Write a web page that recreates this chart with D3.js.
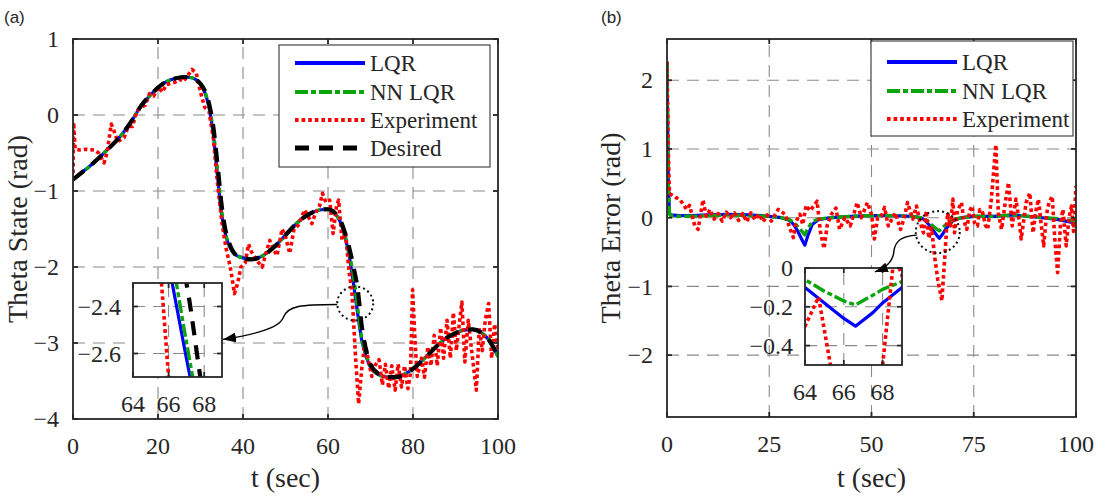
<!DOCTYPE html>
<html>
<head>
<meta charset="utf-8">
<script src="https://cdn.jsdelivr.net/npm/d3@7"></script>
<style>
  body { margin: 0; background: #fff; }
  svg text { font-family: "Liberation Serif", "Times New Roman", serif; fill: #262626; }
  svg text.panel { font-family: "Liberation Sans", Arial, sans-serif; }
</style>
</head>
<body>
<svg id="chart" width="1107" height="499"></svg>
<script>
// ---- panel (a): theta state ----
const tState = [0, 2, 4, 6, 8, 10, 12, 14, 16, 18, 20, 22, 24, 26, 28, 29, 30, 31, 32, 33, 34, 35, 36, 37, 38,
  40, 42, 44, 46, 48, 50, 52, 54, 56, 58, 60, 61, 62, 63, 64, 65, 66, 67, 68, 69, 70,
  72, 74, 76, 78, 80, 82, 84, 86, 88, 90, 92, 94, 96, 98, 100];
const desiredState = [-0.85, -0.76, -0.67, -0.57, -0.46, -0.35, -0.22, -0.06, 0.12, 0.25, 0.36, 0.44, 0.48, 0.50, 0.49,
  0.46, 0.41, 0.32, 0.15, -0.15, -0.65, -1.2, -1.55, -1.72, -1.82,
  -1.88, -1.9, -1.87, -1.8, -1.7, -1.58, -1.46, -1.36, -1.29, -1.25, -1.24,
  -1.26, -1.31, -1.4, -1.55, -1.75, -2.0, -2.3, -2.8, -3.1, -3.28,
  -3.41, -3.45, -3.45, -3.41, -3.34, -3.24, -3.13, -3.02, -2.93, -2.87, -2.83, -2.82, -2.86, -2.97, -3.18];
const lqrState = [-0.85, -0.76, -0.67, -0.57, -0.46, -0.35, -0.22, -0.06, 0.12, 0.25, 0.36, 0.44, 0.48, 0.50, 0.49,
  0.46, 0.41, 0.30, 0.10, -0.25, -0.8, -1.32, -1.6, -1.75, -1.83,
  -1.88, -1.9, -1.87, -1.8, -1.7, -1.58, -1.46, -1.36, -1.29, -1.25, -1.24,
  -1.26, -1.32, -1.42, -1.6, -1.86, -2.22, -2.62, -2.98, -3.18, -3.32,
  -3.42, -3.45, -3.45, -3.41, -3.34, -3.24, -3.13, -3.02, -2.93, -2.87, -2.83, -2.82, -2.86, -2.97, -3.18];
const nnState = [-0.85, -0.76, -0.67, -0.57, -0.46, -0.35, -0.22, -0.06, 0.12, 0.25, 0.36, 0.44, 0.48, 0.50, 0.49,
  0.46, 0.41, 0.31, 0.12, -0.2, -0.72, -1.26, -1.58, -1.74, -1.83,
  -1.88, -1.9, -1.87, -1.8, -1.7, -1.58, -1.46, -1.36, -1.29, -1.25, -1.24,
  -1.26, -1.32, -1.41, -1.58, -1.82, -2.12, -2.55, -2.95, -3.16, -3.31,
  -3.42, -3.45, -3.45, -3.41, -3.34, -3.24, -3.13, -3.02, -2.93, -2.87, -2.83, -2.82, -2.86, -2.97, -3.18];
const tExpState = [0, 0.15, 0.5, 1.5, 3, 5, 6, 7.3, 8, 9, 9.6, 10.5, 12, 13, 14, 15, 16, 17, 18, 19,
  20, 21, 22, 24, 25, 26, 27, 28, 29, 30, 31, 32, 33, 34, 35, 36, 37, 38, 38.8, 39.5,
  40.5, 41.3, 42, 43, 44.5, 45.5, 46.3, 47.3, 48, 49.2, 50, 51, 52, 53, 54.5, 55.5, 56.2, 57, 58, 58.7,
  59.5, 60.4, 61.2, 62, 62.5, 63.3, 64.1, 65, 65.6, 66, 66.5, 67.2, 68, 68.7, 69.5, 70.3, 71, 72, 72.8, 73.5,
  74.3, 75, 75.8, 76.5, 77.3, 78, 78.8, 79.4, 79.9, 80.5, 81, 82, 82.7, 83.5, 84.2, 85, 85.7, 86.5, 87.2, 88,
  88.8, 89.5, 90.2, 91, 91.5, 92.2, 93, 93.8, 94.9, 95.6, 96.3, 97, 97.8, 98.5, 99.2, 100];
const expState = [-0.85, -0.1, -0.45, -0.46, -0.45, -0.46, -0.5, -0.63, -0.5, -0.12, -0.2, -0.35, -0.3, -0.15, -0.15, 0.05, 0.1, 0.13, 0.28, 0.25,
  0.37, 0.3, 0.4, 0.43, 0.47, 0.44, 0.52, 0.6, 0.55, 0.3, 0.1, 0.05, -0.3, -0.9, -1.4, -1.75, -2.0, -2.35, -2.2, -2.0,
  -1.95, -1.7, -1.8, -1.9, -2.0, -1.8, -1.65, -1.78, -1.85, -1.5, -1.6, -1.82, -1.5, -1.45, -1.25, -1.35, -1.43, -1.3, -1.2, -1.03,
  -1.15, -1.12, -1.56, -1.2, -1.12, -1.65, -1.55, -2.08, -2.3, -2.7, -3.2, -3.8, -3.3, -3.0, -3.22, -3.44, -3.3, -3.22, -3.55, -3.28,
  -3.6, -3.3, -3.62, -3.28, -3.58, -3.3, -3.6, -3.4, -2.3, -3.0, -3.44, -3.2, -3.45, -3.05, -3.3, -2.9, -3.3, -2.8, -3.2, -2.7,
  -3.2, -2.6, -3.1, -2.7, -2.46, -3.25, -2.7, -3.1, -3.62, -2.8, -3.1, -2.7, -2.48, -3.2, -2.75, -3.1];

// ---- panel (b): theta error ----
const tErr = [0, 0.3, 0.6, 1, 3, 6, 10, 15, 20, 25, 28, 30, 31, 32, 33, 33.7, 34.5, 35.5, 37, 40,
  45, 50, 55, 60, 62, 63, 64, 65, 66, 66.6, 67.5, 68, 69, 70, 72, 75, 80, 85, 90, 95, 100];
const lqrErr = [2.27, 0.6, 0.06, 0.04, 0.03, 0.03, 0.04, 0.05, 0.04, 0.02, 0.0, -0.04, -0.1, -0.2, -0.32, -0.4, -0.25, -0.1, -0.03, 0.0,
  0.02, 0.03, 0.03, 0.02, 0.0, -0.03, -0.1, -0.18, -0.26, -0.3, -0.23, -0.18, -0.1, -0.04, 0.0, 0.02, 0.02, 0.04, 0.01, -0.02, -0.08];
const nnErr = [2.27, 0.5, 0.05, 0.03, 0.02, 0.02, 0.03, 0.04, 0.03, 0.02, 0.0, -0.03, -0.07, -0.13, -0.2, -0.25, -0.15, -0.06, -0.02, 0.0,
  0.02, 0.03, 0.03, 0.02, 0.0, -0.02, -0.06, -0.12, -0.17, -0.19, -0.14, -0.11, -0.07, -0.03, 0.0, 0.02, 0.02, 0.04, 0.01, -0.01, -0.05];
const tExpErr = [0, 0.3, 0.6, 1.2, 2, 3.2, 4.8, 5.5, 6.8, 7.6, 8.8, 9.6, 10.5, 11.5, 12.5, 13.5, 14.5, 15.5, 16.5, 17.5,
  18.5, 19.5, 20.5, 21.5, 22.5, 23.5, 24.5, 25.5, 27.2, 28.9, 30, 30.9, 31.6, 32.5, 33.2, 34, 35, 36.7, 37.5, 38.4,
  39.2, 40.2, 41.3, 42.2, 43.5, 44.8, 46.5, 47.5, 49, 50, 50.7, 51.5, 52.4, 53.2, 54.1, 55.8, 57.1, 58, 58.8, 60.1,
  61, 61.8, 62.7, 63.4, 64, 64.7, 65.4, 66.2, 67.2, 68, 68.6, 69.3, 69.9, 70.3, 71, 72, 72.6, 73.3, 74, 74.6,
  75.2, 75.9, 76.5, 77.2, 77.8, 78.4, 79.3, 80.4, 81, 81.8, 82.7, 83.5, 84.4, 85.3, 86, 86.6, 87.8, 88.7, 89.5, 90.2,
  90.8, 91.5, 92.1, 92.8, 93.4, 94.2, 94.8, 95.5, 96.2, 96.8, 97.6, 98.3, 98.9, 99.4, 100];
const expErr = [2.27, 1.0, 0.35, 0.33, 0.3, 0.26, 0.12, 0.18, -0.12, -0.17, 0.26, 0.02, 0.12, -0.02, 0.06, -0.05, 0.08, 0.0, 0.07, -0.04,
  0.06, -0.06, 0.07, -0.03, 0.05, -0.06, 0.04, -0.05, 0.12, 0.05, -0.15, -0.29, -0.05, 0.05, -0.1, 0.18, 0.1, 0.24, -0.2, -0.45,
  -0.1, 0.05, 0.14, -0.17, 0.0, -0.12, 0.22, 0.0, 0.22, 0.05, -0.31, 0.0, 0.02, 0.15, -0.12, 0.07, -0.17, 0.0, 0.22, -0.02,
  0.17, -0.05, -0.22, 0.1, -0.3, -0.15, -0.55, -0.9, -1.21, -0.5, 0.07, -0.12, 0.27, -0.22, 0.1, 0.22, -0.05, -0.17, 0.1, 0.17,
  -0.08, -0.12, 0.12, 0.07, -0.1, -0.17, 0.27, 1.06, 0.07, -0.17, 0.22, 0.51, -0.12, 0.27, 0.0, -0.31, 0.22, 0.36, -0.22, 0.1,
  0.27, -0.1, -0.41, 0.05, 0.22, 0.31, -0.3, -0.8, -0.1, 0.12, -0.41, 0.0, 0.17, -0.2, 0.46];

const stateXTicks = [0, 20, 40, 60, 80, 100];
const stateYTicks = [-4, -3, -2, -1, 0, 1];
const errXTicks = [0, 25, 50, 75, 100];
const errYTicks = [-2, -1, 0, 1, 2];
const zoomXTicks = [64, 66, 68];
const zoomStateYTicks = [-2.6, -2.4];
const zoomErrYTicks = [-0.4, -0.2, 0];

const styles = {
  lqr: { name: "LQR", color: "#0000ff", width: 3.2, dash: null },
  nn: { name: "NN LQR", color: "#0aa50a", width: 3.4, dash: "13,3,5,3" },
  exp: { name: "Experiment", color: "#ff0000", width: 3.6, dash: "3.6,3" },
  des: { name: "Desired", color: "#000000", width: 4.2, dash: "14,10" },
};

const svg = d3.select("#chart");
svg.append("rect").attr("width", 1107).attr("height", 499).attr("fill", "#fff");
const defs = svg.append("defs");
defs.append("marker")
  .attr("id", "head")
  .attr("viewBox", "0 -5 13 10")
  .attr("refX", 13).attr("refY", 0)
  .attr("markerWidth", 13).attr("markerHeight", 10)
  .attr("markerUnits", "userSpaceOnUse")
  .attr("orient", "auto")
  .append("path").attr("d", "M0,-5L13,0L0,5Z").attr("fill", "#000");

let clipCount = 0;
function axes(x, y, xTicks, yTicks, opt) {
  const [x0, x1] = x.range();
  const [y0, y1] = y.range();
  const id = `clip${clipCount++}`;
  defs.append("clipPath").attr("id", id).append("rect")
    .attr("x", x0).attr("y", y1).attr("width", x1 - x0).attr("height", y0 - y1);
  const g = svg.append("g");
  g.append("rect").attr("x", x0).attr("y", y1).attr("width", x1 - x0).attr("height", y0 - y1).attr("fill", "#fff");
  const grid = g.append("g").attr("stroke", "#8a8a8a").attr("stroke-width", 1.1).attr("stroke-dasharray", "12,8");
  grid.selectAll("line.v").data(xTicks.filter((t) => x(t) > x0 + 2 && x(t) < x1 - 2)).join("line")
    .attr("class", "v").attr("x1", (t) => x(t)).attr("x2", (t) => x(t)).attr("y1", y0).attr("y2", y1);
  grid.selectAll("line.h").data(yTicks.filter((t) => y(t) < y0 - 2 && y(t) > y1 + 2)).join("line")
    .attr("class", "h").attr("y1", (t) => y(t)).attr("y2", (t) => y(t)).attr("x1", x0).attr("x2", x1);
  const plot = g.append("g").attr("clip-path", `url(#${id})`);
  const frame = g.append("g").attr("stroke", "#262626").attr("stroke-width", 1.8).attr("fill", "none");
  frame.append("rect").attr("x", x0).attr("y", y1).attr("width", x1 - x0).attr("height", y0 - y1);
  const tl = 5;
  xTicks.forEach((t) => {
    frame.append("line").attr("x1", x(t)).attr("x2", x(t)).attr("y1", y0).attr("y2", y0 - tl);
    frame.append("line").attr("x1", x(t)).attr("x2", x(t)).attr("y1", y1).attr("y2", y1 + tl);
  });
  yTicks.forEach((t) => {
    frame.append("line").attr("y1", y(t)).attr("y2", y(t)).attr("x1", x0).attr("x2", x0 + tl);
    frame.append("line").attr("y1", y(t)).attr("y2", y(t)).attr("x1", x1).attr("x2", x1 - tl);
  });
  const fmt = d3.format("");
  g.append("g").selectAll("text").data(xTicks).join("text")
    .attr("x", (t) => x(t)).attr("y", y0 + 35)
    .attr("text-anchor", "middle").attr("font-size", opt.fs).text(fmt);
  g.append("g").selectAll("text").data(yTicks).join("text")
    .attr("x", x0 - opt.gap).attr("y", (t) => y(t)).attr("dy", "0.34em")
    .attr("text-anchor", "end").attr("font-size", opt.fs).text(fmt);
  return plot;
}

function series(layer, x, y, ts, vs, st, curve) {
  const line = d3.line().x((d) => x(d[0])).y((d) => y(d[1])).curve(curve);
  layer.append("path").datum(d3.zip(ts, vs))
    .attr("d", line).attr("fill", "none")
    .attr("stroke", st.color).attr("stroke-width", st.width)
    .attr("stroke-dasharray", st.dash).attr("stroke-linejoin", "round");
}

function legend(box, keys, rowY) {
  const g = svg.append("g");
  g.append("rect").attr("x", box.x).attr("y", box.y).attr("width", box.w).attr("height", box.h)
    .attr("fill", "#fff").attr("stroke", "#333").attr("stroke-width", 1.1);
  keys.forEach((k, i) => {
    const st = styles[k];
    const yy = box.y + rowY[i];
    g.append("line").attr("x1", box.x + 16).attr("x2", box.x + 86).attr("y1", yy).attr("y2", yy)
      .attr("stroke", st.color).attr("stroke-width", st.width + 0.6).attr("stroke-dasharray", st.dash);
    g.append("text").attr("x", box.x + 91).attr("y", yy).attr("dy", "0.34em")
      .attr("font-size", 23).text(st.name);
  });
}

// ---------------- panel (a) ----------------
const xA = d3.scaleLinear([0, 100], [73, 498]);
const yA = d3.scaleLinear([-4, 1], [419, 39]);
const plotA = axes(xA, yA, stateXTicks, stateYTicks, { fs: 24, gap: 14 });
[["lqr", lqrState], ["nn", nnState]].forEach(([k, v]) => series(plotA, xA, yA, tState, v, styles[k], d3.curveMonotoneX));
series(plotA, xA, yA, tExpState, expState, styles.exp, d3.curveLinear);
series(plotA, xA, yA, tState, desiredState, styles.des, d3.curveMonotoneX);
legend({ x: 279, y: 45, w: 211, h: 122 }, ["lqr", "nn", "exp", "des"], [18, 47, 75, 103]);

// zoom inset (a)
const xAi = d3.scaleLinear([64, 69], [133, 222]);
const yAi = d3.scaleLinear([-2.7, -2.3], [377, 283]);
// dotted ring + arrow
const ringA = { cx: xA(66.4), cy: yA(-2.48), rx: 18, ry: 17 };
svg.append("ellipse").attr("cx", ringA.cx).attr("cy", ringA.cy).attr("rx", ringA.rx).attr("ry", ringA.ry)
  .attr("fill", "none").attr("stroke", "#111").attr("stroke-width", 2).attr("stroke-dasharray", "2,3");
{
  const s = [ringA.cx - ringA.rx, ringA.cy + 1];
  const e = [xAi(69) + 1, yAi(-2.54)];
  const m = [283, 318];
  const p = d3.path();
  p.moveTo(s[0], s[1]);
  p.bezierCurveTo(s[0] - 35, s[1], m[0] + 4, s[1] + 1, m[0], m[1]);
  p.bezierCurveTo(m[0] - 3, m[1] + 8, m[0] - 20, e[1] - 6, e[0], e[1]);
  svg.append("path").attr("d", p.toString()).attr("fill", "none").attr("stroke", "#000")
    .attr("stroke-width", 1.4).attr("marker-end", "url(#head)");
}
const plotAi = axes(xAi, yAi, zoomXTicks, zoomStateYTicks, { fs: 24, gap: 12 });
[["lqr", lqrState], ["nn", nnState]].forEach(([k, v]) => series(plotAi, xAi, yAi, tState, v, styles[k], d3.curveMonotoneX));
series(plotAi, xAi, yAi, tExpState, expState, styles.exp, d3.curveLinear);
series(plotAi, xAi, yAi, tState, desiredState, styles.des, d3.curveMonotoneX);

// ---------------- panel (b) ----------------
const xB = d3.scaleLinear([0, 100], [667, 1076]);
const yB = d3.scaleLinear([-2.9, 2.6], [417, 39]);
const plotB = axes(xB, yB, errXTicks, errYTicks, { fs: 24, gap: 14 });
series(plotB, xB, yB, tErr, lqrErr, styles.lqr, d3.curveLinear);
series(plotB, xB, yB, tErr, nnErr, styles.nn, d3.curveLinear);
series(plotB, xB, yB, tExpErr, expErr, styles.exp, d3.curveLinear);
legend({ x: 871, y: 41, w: 202, h: 95 }, ["lqr", "nn", "exp"], [21, 50, 78]);

const xBi = d3.scaleLinear([64, 69], [805, 902]);
const yBi = d3.scaleLinear([-0.5, 0], [365, 268]);
const ringB = { cx: xB(66.2), cy: yB(-0.21), rx: 22, ry: 21 };
svg.append("ellipse").attr("cx", ringB.cx).attr("cy", ringB.cy).attr("rx", ringB.rx).attr("ry", ringB.ry)
  .attr("fill", "none").attr("stroke", "#111").attr("stroke-width", 2).attr("stroke-dasharray", "2,3");
const plotBi = axes(xBi, yBi, zoomXTicks, zoomErrYTicks, { fs: 24, gap: 12 });
series(plotBi, xBi, yBi, tErr, lqrErr, styles.lqr, d3.curveLinear);
series(plotBi, xBi, yBi, tErr, nnErr, styles.nn, d3.curveLinear);
series(plotBi, xBi, yBi, tExpErr, expErr, styles.exp, d3.curveLinear);
{
  const s = [ringB.cx - ringB.rx + 1, ringB.cy + 3];
  const e = [xBi(67.6), yBi(-0.02)];
  const p = d3.path();
  p.moveTo(s[0], s[1]);
  p.bezierCurveTo(s[0] - 14, s[1] + 1, s[0] - 22, s[1] + 5, s[0] - 23, s[1] + 17);
  p.bezierCurveTo(s[0] - 24, s[1] + 27, s[0] - 31, e[1] - 4, e[0], e[1]);
  svg.append("path").attr("d", p.toString()).attr("fill", "none").attr("stroke", "#000")
    .attr("stroke-width", 1.4).attr("marker-end", "url(#head)");
}

// ---------------- titles ----------------
svg.append("text").attr("transform", "translate(27,229) rotate(-90)").attr("text-anchor", "middle")
  .attr("font-size", 28).text("Theta State (rad)");
svg.append("text").attr("transform", "translate(620,228) rotate(-90)").attr("text-anchor", "middle")
  .attr("font-size", 28).text("Theta Error (rad)");
svg.append("text").attr("x", (xA(0) + xA(100)) / 2).attr("y", 487).attr("text-anchor", "middle")
  .attr("font-size", 28).text("t (sec)");
svg.append("text").attr("x", (xB(0) + xB(100)) / 2).attr("y", 487).attr("text-anchor", "middle")
  .attr("font-size", 28).text("t (sec)");
svg.append("text").attr("class", "panel").attr("x", 4).attr("y", 23).attr("font-size", 17).text("(a)");
svg.append("text").attr("class", "panel").attr("x", 601).attr("y", 23).attr("font-size", 17).text("(b)");
</script>
</body>
</html>
